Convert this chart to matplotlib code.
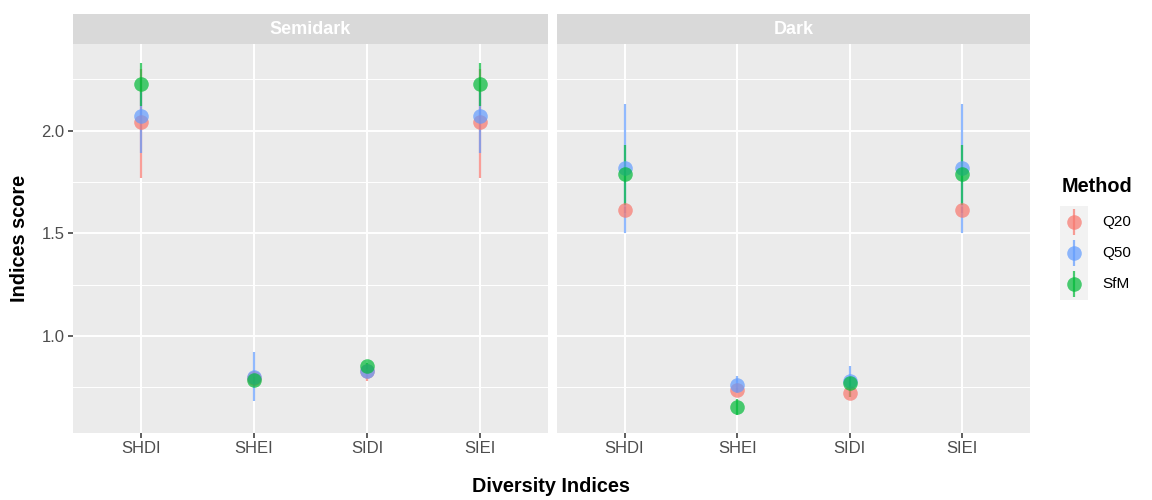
import matplotlib
matplotlib.use("Agg")
import matplotlib.pyplot as plt
import numpy as np

plt.rcParams['font.family'] = ['Liberation Sans', 'DejaVu Sans']

indices = ["SHDI", "SHEI", "SIDI", "SIEI"]
panels = ["Semidark", "Dark"]
methods = ["Q20", "Q50", "SfM"]
colors = {"Q20": "#F8766D", "Q50": "#619CFF", "SfM": "#00BA38"}

# Semidark
semi_mean = {"Q20": [2.04, 0.795, 0.83, 2.04],
             "Q50": [2.07, 0.800, 0.83, 2.07],
             "SfM": [2.225, 0.787, 0.855, 2.225]}
semi_lo = {"Q20": [1.77, 0.76, 0.78, 1.77],
           "Q50": [1.89, 0.685, 0.80, 1.89],
           "SfM": [2.12, 0.77, 0.84, 2.12]}
semi_hi = {"Q20": [2.30, 0.83, 0.86, 2.30],
           "Q50": [2.19, 0.92, 0.86, 2.19],
           "SfM": [2.33, 0.80, 0.87, 2.33]}
# Dark
dark_mean = {"Q20": [1.615, 0.735, 0.72, 1.615],
             "Q50": [1.816, 0.762, 0.78, 1.816],
             "SfM": [1.787, 0.656, 0.77, 1.787]}
dark_lo = {"Q20": [1.60, 0.725, 0.70, 1.60],
           "Q50": [1.50, 0.72, 0.75, 1.50],
           "SfM": [1.64, 0.617, 0.70, 1.64]}
dark_hi = {"Q20": [1.63, 0.745, 0.74, 1.63],
           "Q50": [2.13, 0.806, 0.855, 2.13],
           "SfM": [1.93, 0.695, 0.80, 1.93]}

data = {"Semidark": (semi_mean, semi_lo, semi_hi),
        "Dark": (dark_mean, dark_lo, dark_hi)}

W, H = 1152, 500
fig = plt.figure(figsize=(W / 100, H / 100), dpi=100)

def fx(px):
    return px / W

def fy(py):
    return 1 - py / H

panel_px = [(73, 548), (557, 1030)]
ax_top, ax_bot = 44, 433
strip_top = 14

ylim = (0.527, 2.422)
for i, (pname, (x0, x1)) in enumerate(zip(panels, panel_px)):
    ax = fig.add_axes([fx(x0), fy(ax_bot), fx(x1 - x0), (ax_bot - ax_top) / H])
    ax.set_facecolor("#EBEBEB")
    for s in ax.spines.values():
        s.set_visible(False)
    ax.set_xlim(0.4, 4.6)
    ax.set_ylim(*ylim)
    xs = np.arange(1, len(indices) + 1)
    for y in [0.75, 1.25, 1.75, 2.25]:
        ax.axhline(y, color="white", lw=0.7, zorder=0)
    for y in [1.0, 1.5, 2.0]:
        ax.axhline(y, color="white", lw=1.4, zorder=0)
    for x in xs:
        ax.axvline(x, color="white", lw=1.4, zorder=0)
    mean, lo, hi = data[pname]
    for m in methods:
        mv = np.array(mean[m]); lv = np.array(lo[m]); hv = np.array(hi[m])
        ax.errorbar(xs, mv, yerr=[mv - lv, hv - mv], fmt='o', color=colors[m],
                    ecolor=colors[m], elinewidth=1.6, capsize=0, markersize=10.5,
                    alpha=0.7, markeredgewidth=0, zorder=3)
    ax.set_xticks(xs)
    ax.set_xticklabels(indices)
    ax.set_yticks([1.0, 1.5, 2.0])
    ax.set_yticklabels(["1.0", "1.5", "2.0"])
    ax.tick_params(axis='both', colors="#333333", length=3.5, width=1.1,
                   labelsize=12, labelcolor="#4D4D4D", pad=2.5)
    if i > 0:
        ax.tick_params(axis='y', left=False, labelleft=False)
    # strip
    sax = fig.add_axes([fx(x0), fy(ax_top), fx(x1 - x0), (ax_top - strip_top) / H])
    sax.set_facecolor("#D9D9D9")
    sax.set_xticks([]); sax.set_yticks([])
    for s in sax.spines.values():
        s.set_visible(False)
    sax.text(0.5, 0.5, pname, color="white", fontsize=13, fontweight="bold",
             ha="center", va="center", transform=sax.transAxes)

fig.text(fx((73 + 1030) / 2), fy(487), "Diversity Indices", fontsize=14.3,
         fontweight="bold", ha="center", va="center")
fig.text(fx(20), fy((ax_top + ax_bot) / 2), "Indices score", fontsize=14.3,
         fontweight="bold", ha="center", va="center", rotation=90)

# legend
fig.text(fx(1062), fy(186), "Method", fontsize=14.3, fontweight="bold",
         ha="left", va="center")
lax = fig.add_axes([fx(1060), fy(300), fx(28), 94 / H])
lax.set_facecolor("#F2F2F2")
lax.set_xticks([]); lax.set_yticks([])
for s in lax.spines.values():
    s.set_visible(False)
lax.set_xlim(0, 1); lax.set_ylim(0, 3)
for k, m in enumerate(methods):
    yk = 2.5 - k
    lax.errorbar([0.5], [yk], yerr=[[0.42], [0.42]], fmt='o', color=colors[m],
                 ecolor=colors[m], elinewidth=1.6, markersize=10.5, alpha=0.7,
                 markeredgewidth=0)
    fig.text(fx(1102), fy(206 + 94 * (k + 0.5) / 3), m, fontsize=11,
             ha="left", va="center", color="black")

fig.savefig("out.png", dpi=100, facecolor="white")
